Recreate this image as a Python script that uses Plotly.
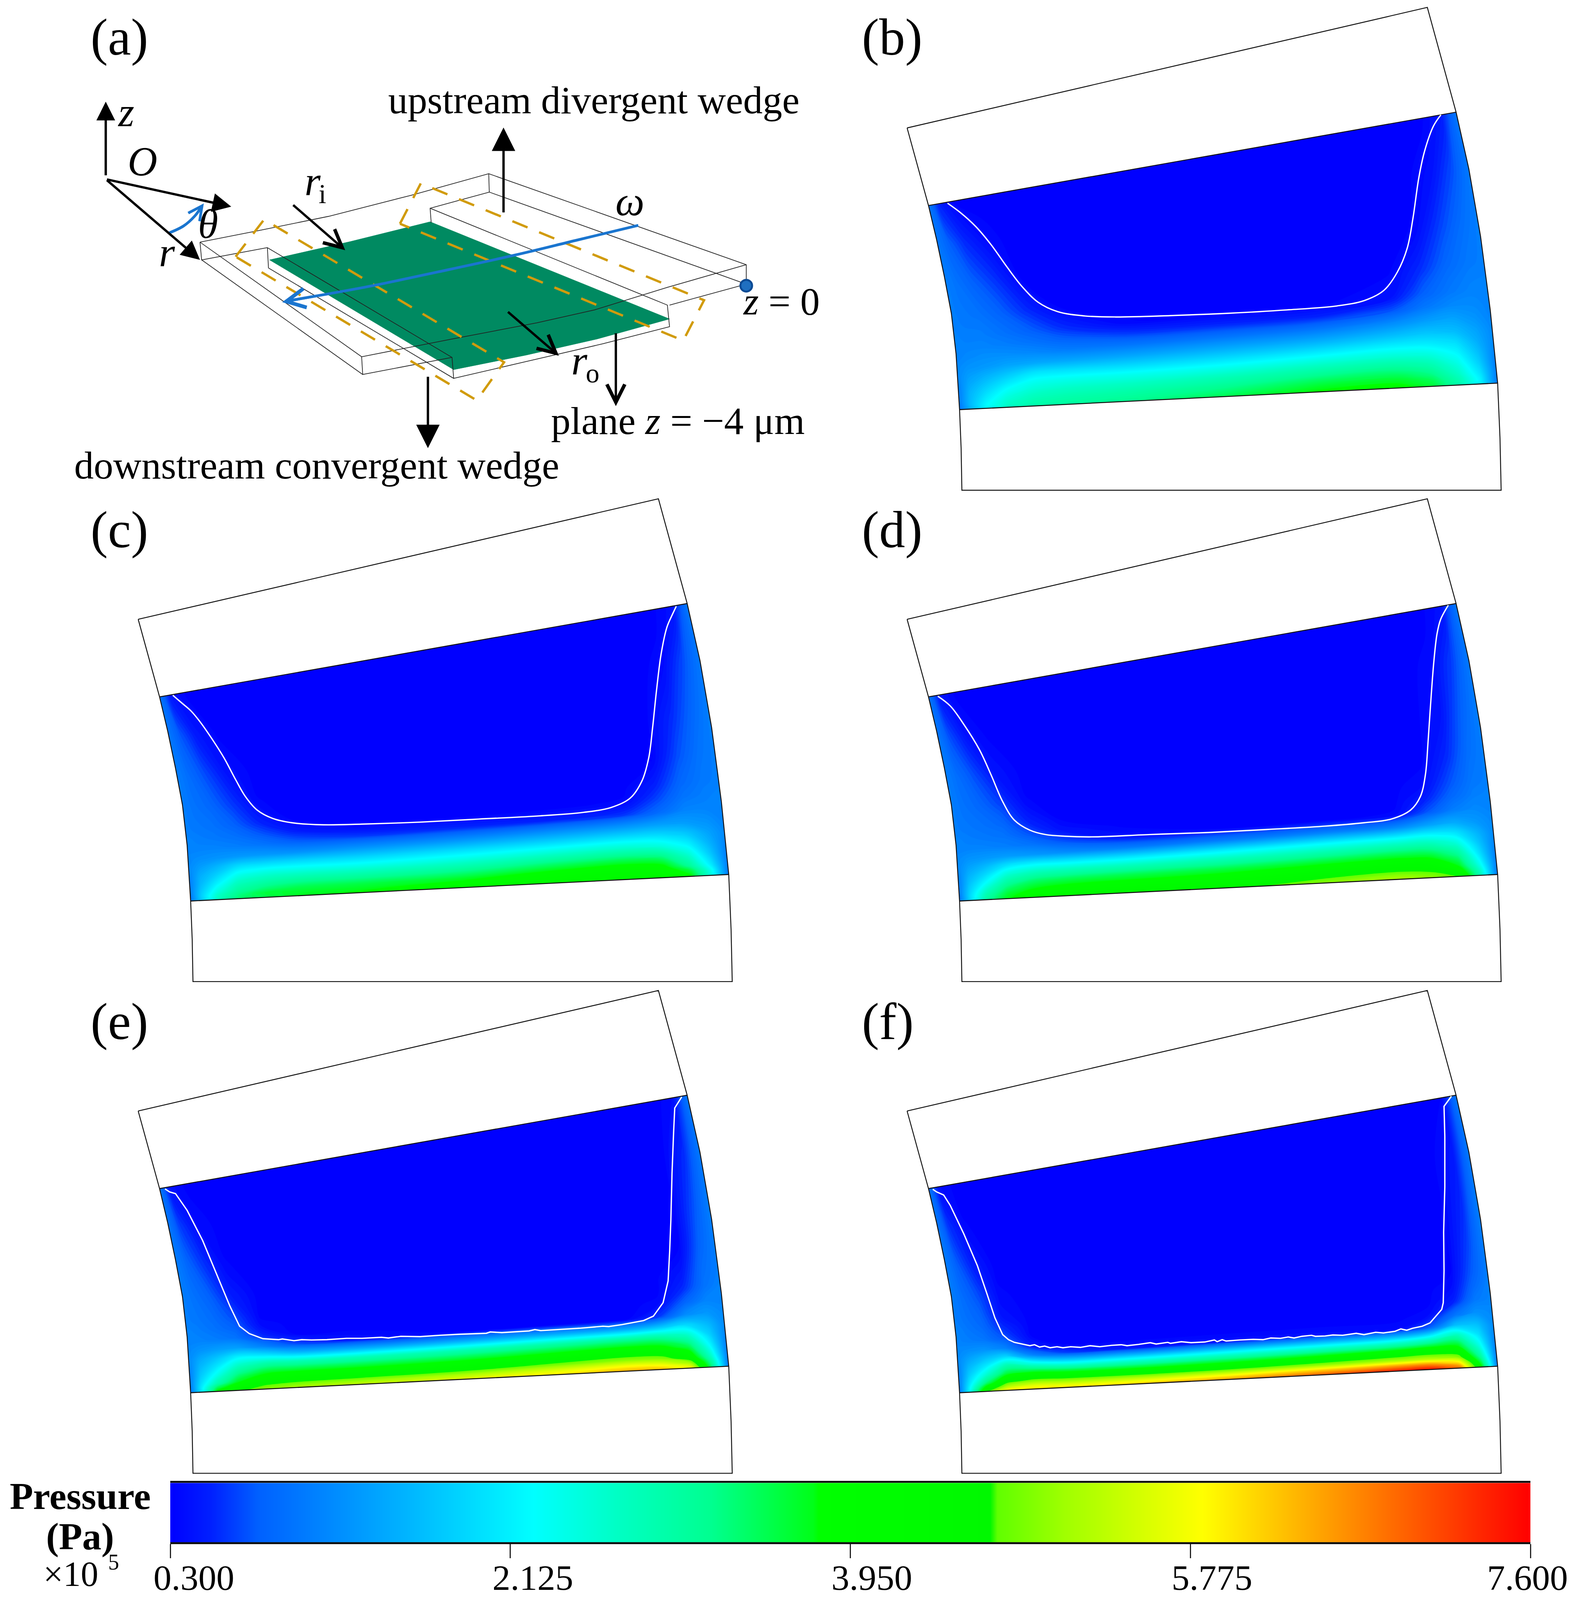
import numpy as np
import plotly.graph_objects as go

W, H = 4046, 4741      # reference size; every coordinate below is in these units
FIG_H = 4096           # the browser window is only this tall, so the y axis maps H onto FIG_H
Y_K = FIG_H / H
SERIF = "Liberation Serif"

# ---- colour scale (pressure, 10^5 Pa) ----
P_MIN, P_MAX = 0.3, 7.6
BAR_TICKS = [0.3, 2.125, 3.95, 5.775, 7.6]
BAR_LABELS = ["0.300", "2.125", "3.950", "5.775", "7.600"]
BAR_LABEL_SHIFT = [60, 58, 55, 55, -8]
SCALE_P = [0.3, 0.52, 0.77, 1.6, 2.25, 2.7, 3.2, 3.75, 3.78, 4.7, 4.74, 5.1, 5.84, 7.6]
SCALE_C = ["#0000ff", "#0020ff", "#0060ff", "#00b8ff", "#00ffff", "#00ffc4", "#00ff90",
           "#00ff18", "#00ff00", "#00f800", "#60ff00", "#a0ff00", "#ffff00", "#ff0000"]
BAR_P = [0.3, 0.52, 0.77, 1.6, 2.25, 2.7, 3.2, 3.75, 3.78, 4.7, 4.74, 5.1, 5.84, 7.6]

# ---- pressure tables: rows along V, columns along U ----
U = [0, .02, .05, .09, .14, .2, .32, .5, .68, .82, .88, .93, .97, 1]
V = [0, .2, .4, .55, .65, .7, .75, .8, .84, .88, .92, .96, .98, 1]

P_B = [
 [1.0,.5,.3,.3,.3,.3,.3,.3,.3,.3,.3,.3,.45,1.0],
 [1.0,.8,.55,.35,.3,.3,.3,.3,.3,.3,.3,.4,.7,1.0],
 [1.05,.95,.8,.6,.32,.3,.3,.3,.3,.3,.33,.65,.9,1.05],
 [1.05,1.0,.95,.8,.55,.32,.3,.3,.3,.31,.55,.85,1.0,1.05],
 [1.1,1.05,1.05,.95,.8,.58,.33,.3,.3,.42,.8,1.0,1.1,1.1],
 [1.1,1.1,1.1,1.05,.95,.8,.62,.55,.52,.72,1.0,1.15,1.15,1.1],
 [1.1,1.15,1.2,1.2,1.15,1.05,.98,.98,1.0,1.2,1.35,1.4,1.25,1.1],
 [1.15,1.25,1.3,1.4,1.45,1.45,1.45,1.5,1.55,1.7,1.75,1.65,1.4,1.15],
 [1.15,1.35,1.5,1.7,1.95,1.95,1.9,1.95,2.05,2.15,2.1,1.95,1.5,1.15],
 [1.1,1.45,1.7,2.0,2.3,2.35,2.35,2.4,2.55,2.6,2.5,2.2,1.65,1.1],
 [1.05,1.55,1.9,2.3,2.55,2.65,2.7,2.85,3.05,3.1,2.9,2.45,1.8,1.05],
 [1.05,1.6,2.1,2.55,2.8,2.9,3.0,3.2,3.5,3.55,3.3,2.7,2.0,1.05],
 [1.0,1.6,2.2,2.65,2.9,3.0,3.1,3.35,3.7,3.75,3.5,2.85,2.1,1.0],
 [1.0,1.5,2.2,2.7,2.95,3.05,3.2,3.5,3.85,3.9,3.6,2.9,2.1,1.0],
]
P_C = [
 [1.0,.45,.3,.3,.3,.3,.3,.3,.3,.3,.3,.3,.4,1.0],
 [1.0,.75,.45,.3,.3,.3,.3,.3,.3,.3,.3,.35,.7,1.0],
 [1.05,.9,.7,.42,.3,.3,.3,.3,.3,.3,.3,.55,.85,1.05],
 [1.05,.95,.85,.62,.33,.3,.3,.3,.3,.3,.31,.7,.95,1.05],
 [1.05,1.0,.95,.8,.52,.32,.3,.3,.3,.3,.5,.85,1.0,1.05],
 [1.1,1.05,1.0,.92,.72,.48,.3,.3,.3,.34,.65,.95,1.05,1.1],
 [1.1,1.1,1.1,1.05,.95,.78,.62,.55,.52,.6,.85,1.1,1.1,1.1],
 [1.15,1.2,1.25,1.3,1.3,1.25,1.25,1.25,1.3,1.35,1.4,1.35,1.25,1.1],
 [1.15,1.35,1.55,1.85,1.9,1.9,1.85,1.9,1.95,2.0,1.95,1.75,1.4,1.15],
 [1.1,1.5,1.8,2.3,2.45,2.45,2.4,2.45,2.6,2.65,2.5,2.15,1.55,1.1],
 [1.05,1.6,2.1,2.7,2.9,3.0,3.0,3.05,3.3,3.4,3.25,2.6,1.75,1.05],
 [1.05,1.75,2.45,3.05,3.35,3.5,3.55,3.65,3.95,4.1,3.95,3.1,2.05,1.05],
 [1.0,1.8,2.65,3.25,3.6,3.65,3.7,3.9,4.2,4.35,4.2,3.6,2.3,1.0],
 [1.0,1.7,2.7,3.35,3.5,3.7,3.85,4.1,4.3,4.45,4.25,3.85,2.35,1.0],
]
P_D = [
 [1.0,.45,.3,.3,.3,.3,.3,.3,.3,.3,.3,.3,.4,1.0],
 [1.0,.7,.42,.3,.3,.3,.3,.3,.3,.3,.3,.35,.65,1.0],
 [1.05,.9,.7,.42,.3,.3,.3,.3,.3,.3,.3,.42,.8,1.05],
 [1.05,.95,.85,.65,.33,.3,.3,.3,.3,.3,.3,.55,.9,1.05],
 [1.05,1.0,.95,.85,.52,.32,.3,.3,.3,.3,.38,.72,.98,1.05],
 [1.1,1.05,1.0,.95,.7,.42,.3,.3,.3,.3,.5,.85,1.05,1.1],
 [1.1,1.1,1.1,1.05,.95,.72,.4,.32,.3,.34,.72,1.05,1.15,1.1],
 [1.15,1.25,1.3,1.35,1.3,1.2,1.05,1.05,1.1,1.15,1.4,1.5,1.3,1.15],
 [1.15,1.4,1.6,1.95,2.1,2.05,2.0,2.05,2.15,2.2,2.25,2.05,1.55,1.15],
 [1.1,1.55,1.9,2.5,2.75,2.8,2.8,2.85,2.95,3.05,3.0,2.6,1.75,1.1],
 [1.05,1.7,2.25,3.0,3.35,3.45,3.5,3.55,3.7,3.8,3.7,3.2,2.0,1.05],
 [1.05,1.85,2.7,3.45,3.8,3.95,4.0,4.1,4.35,4.5,4.35,3.75,2.35,1.05],
 [1.0,1.9,2.9,3.65,4.0,4.15,4.25,4.4,4.7,4.9,4.75,4.2,2.6,1.0],
 [1.0,1.85,3.0,3.75,4.1,4.25,4.4,4.6,4.95,5.2,5.0,4.7,2.7,1.0],
]
P_E = [
 [1.0,.4,.3,.3,.3,.3,.3,.3,.3,.3,.3,.3,.35,1.0],
 [1.0,.65,.38,.3,.3,.3,.3,.3,.3,.3,.3,.3,.55,1.0],
 [1.05,.85,.6,.33,.3,.3,.3,.3,.3,.3,.3,.3,.7,1.05],
 [1.05,.95,.8,.48,.3,.3,.3,.3,.3,.3,.3,.31,.8,1.05],
 [1.05,1.0,.9,.68,.3,.3,.3,.3,.3,.3,.3,.45,.9,1.05],
 [1.1,1.05,.95,.8,.36,.3,.3,.3,.3,.3,.3,.55,.95,1.1],
 [1.1,1.1,1.05,.95,.55,.3,.3,.3,.3,.3,.35,.8,1.1,1.1],
 [1.15,1.25,1.35,1.4,1.1,.7,.42,.32,.3,.3,.62,1.2,1.3,1.15],
 [1.15,1.45,1.7,2.1,2.0,1.65,1.5,1.5,1.55,1.55,1.75,1.95,1.6,1.15],
 [1.1,1.6,2.0,2.65,2.95,2.9,2.85,2.9,3.05,3.15,3.1,2.75,1.85,1.1],
 [1.05,1.75,2.35,3.2,3.65,3.7,3.7,3.75,3.95,4.1,4.0,3.5,2.2,1.05],
 [1.05,1.95,2.85,3.75,4.25,4.4,4.45,4.55,4.85,5.05,4.95,4.3,2.65,1.05],
 [1.0,2.05,3.4,4.25,4.7,4.85,4.95,5.15,5.5,5.8,5.65,5.1,3.0,1.0],
 [1.0,2.0,3.9,4.6,5.0,5.2,5.4,5.65,6.0,6.4,6.3,5.8,3.2,1.0],
]
P_F = [
 [1.0,.38,.3,.3,.3,.3,.3,.3,.3,.3,.3,.3,.32,1.0],
 [1.0,.6,.33,.3,.3,.3,.3,.3,.3,.3,.3,.3,.45,1.0],
 [1.05,.8,.5,.3,.3,.3,.3,.3,.3,.3,.3,.3,.55,1.05],
 [1.05,.9,.7,.34,.3,.3,.3,.3,.3,.3,.3,.3,.65,1.05],
 [1.05,.95,.82,.42,.3,.3,.3,.3,.3,.3,.3,.32,.75,1.05],
 [1.1,1.0,.88,.55,.3,.3,.3,.3,.3,.3,.3,.38,.85,1.1],
 [1.1,1.05,.98,.72,.32,.3,.3,.3,.3,.3,.3,.5,1.0,1.1],
 [1.15,1.2,1.25,1.1,.48,.32,.3,.3,.3,.3,.38,.95,1.25,1.15],
 [1.15,1.4,1.65,1.9,1.1,.65,.45,.42,.4,.38,.75,1.7,1.65,1.15],
 [1.1,1.6,2.05,2.85,2.45,2.05,2.0,2.05,2.1,2.15,2.45,2.9,2.0,1.1],
 [1.05,1.8,2.55,3.6,3.75,3.55,3.45,3.5,3.65,3.8,3.95,3.85,2.45,1.05],
 [1.05,2.05,3.3,4.6,4.9,4.8,4.75,4.8,5.0,5.2,5.25,5.0,3.05,1.05],
 [1.0,2.2,3.95,5.2,5.55,5.45,5.5,5.75,6.15,6.5,6.55,6.0,3.5,1.0],
 [1.0,2.3,4.6,5.9,6.05,6.05,6.2,6.55,7.0,7.5,7.55,6.9,3.9,1.0],
]

# ---- white isobar of each panel, panel-local coordinates ----
ISO_B = [(128,601),(161,629),(201,671),(241,726),(281,791),(321,851),(361,896),(411,924),(481,937),(561,940),
         (701,936),(851,929),(1001,919),(1131,907),(1201,891),(1251,861),(1286,806),(1311,736),(1326,646),
         (1341,526),(1356,446),(1379,371),(1398,338)]
ISO_C = [(113,603),(135,625),(160,650),(185,685),(215,735),(245,790),(275,855),(300,905),(330,945),(370,970),
         (420,983),(500,989),(600,987),(750,981),(900,972),(1050,963),(1170,952),(1240,938),(1290,910),(1320,860),
         (1338,790),(1348,700),(1358,590),(1370,480),(1385,400),(1400,360),(1409,338)]
ISO_D = [(103,606),(135,635),(170,690),(210,765),(240,840),(270,920),(300,975),(340,1005),(380,1018),(430,1023),
         (500,1025),(650,1018),(800,1012),(950,1003),(1100,993),(1200,983),(1270,972),(1320,945),(1345,905),
         (1358,840),(1365,740),(1372,620),(1380,500),(1388,420),(1397,378),(1417,335)]
ISO_E = [(93,609),(105,618),(120,623),(150,673),(190,763),(230,873),(260,958),(285,1018),(310,1040),(345,1055),
         (385,1058),(395,1056),(425,1061),(445,1058),(470,1059),(510,1058),(560,1054),(600,1054),(650,1051),(668,1053),
         (700,1048),(750,1049),(800,1045),(850,1042),(920,1039),(930,1035),(960,1037),(1030,1032),(1045,1028),(1060,1031),
         (1100,1028),(1160,1024),(1220,1018),(1235,1019),(1270,1013),(1300,1007),(1325,1001),(1350,988),(1375,948),(1388,883),
         (1392,793),(1395,703),(1398,563),(1402,443),(1405,368),(1423,335)]
ISO_F = [(90,610),(100,618),(118,627),(135,658),(170,743),(205,838),(230,923),(250,993),(270,1043),(285,1058),(300,1066),
         (320,1071),(340,1076),(352,1073),(365,1080),(378,1077),(392,1082),(410,1079),(425,1082),(445,1079),(470,1081),
         (495,1076),(520,1079),(550,1075),(575,1073),(590,1076),(620,1072),(650,1067),(665,1071),(695,1066),(702,1069),
         (730,1064),(755,1067),(790,1065),(815,1059),(822,1064),(835,1058),(845,1062),(880,1059),(915,1057),(940,1058),
         (960,1053),(985,1054),(1005,1050),(1020,1053),(1040,1048),(1065,1045),(1075,1048),(1100,1047),(1120,1044),
         (1145,1045),(1180,1039),(1200,1043),(1230,1036),(1250,1038),(1280,1033),(1295,1026),(1310,1030),(1325,1024),
         (1350,1018),(1370,1008),(1385,988),(1400,968),(1404,948),(1406,853),(1405,738),(1408,603),(1408,453),(1406,363),(1425,333)]

# ---- wedge outline, panel-local coordinates ----
OUTLINE = [(24,377),(1363,18),(1437,330),(1470,500),(1500,700),(1525,920),(1544,1137),(1550,1300),(1553,1456),
           (165,1456),(163,1330),(159,1216),(150,1050),(138,930),(120,820),(100,710),(79,608),(50,485),(24,377)]
FIELD_TOP = [(79,608),(1437,330)]
FIELD_BOTTOM = [(159,1216),(1544,1137)]
FIELD_LEFT = [(79,608),(100,710),(120,820),(138,930),(150,1050),(159,1216)]
FIELD_RIGHT = [(1437,330),(1470,500),(1500,700),(1525,920),(1544,1137)]

PANELS = [("b", P_B, ISO_B, (2299, 4), "spline"), ("c", P_C, ISO_C, (330, 1460), "spline"),
          ("d", P_D, ISO_D, (2299, 1460), "spline"),
          ("e", P_E, ISO_E, (330, 2917), "linear"), ("f", P_F, ISO_F, (2299, 2917), "linear")]
ZOOM = 1560 / 1568

# ---- schematic (a), coordinates ----
AX, AY = 2200 / 1568, 1500 / 1568
GREEN_SHEET = [(492,805),(640,748),(785,687),(1222,988),(1090,1050),(960,1100),(828,1145),(492,805)]
WIRES = [
 [(365,750),(470,715),(600,670),(750,605),(892,538),(1362,820),(1362,880),(1222,945)],
 [(892,538),(893,595),(785,645),(787,690)],
 [(893,595),(1362,880)],
 [(785,645),(1218,945),(1222,1012),(1100,1065),(960,1120),(828,1172),(825,1107),(488,767),(490,830)],
 [(365,750),(368,805),(488,767)],
 [(365,750),(660,1105),(662,1160),(825,1107)],
 [(368,805),(662,1160)],
 [(660,1105),(735,1080),(825,1050),(980,1000),(1085,960),(1218,890),(1362,820)],
 [(490,830),(828,1172)],
]
DASH_UP = [(730,693),(768,568),(1285,930),(1247,1055),(730,693)]
DASH_DOWN = [(430,795),(482,680),(920,1122),(870,1240),(430,795)]
OMEGA = [(1165,698),(1050,745),(940,790),(800,842),(680,885),(600,910),(525,932)]
THETA_ARC = [(308,722),(335,700),(355,670),(368,640)]
Z0_DOT = (1362,885)

# tail x, tail y, tip x, tip y, colour, head type, head size, width
ARROWS = [
 (193,555,193,315,"#000000",2,1.6,6),
 (193,555,365,805,"#000000",2,1.6,6),
 (193,555,422,640,"#000000",2,1.6,6),
 (533,632,630,775,"#000000",5,1.5,6),
 (925,963,1020,1102,"#000000",5,1.5,6),
 (1124,1020,1124,1258,"#000000",5,1.5,6),
 (919,670,919,395,"#000000",2,2.0,6),
 (781,1155,781,1388,"#000000",2,2.0,6),
 (600,910,515,936,"#1a75cf",5,1.6,6),
 (355,670,372,630,"#1a75cf",5,1.4,5),
]

def xs(points, ox=0.0, k=1.0):
    return [ox + p[0] * k for p in points]

def ys(points, oy=0.0, k=1.0):
    return [oy + p[1] * k for p in points]

fig = go.Figure()
scale = [[(p - P_MIN) / (P_MAX - P_MIN), c] for p, c in zip(SCALE_P, SCALE_C)]

# pressure fields on warped carpets
lx, ly = np.array(FIELD_LEFT, float).T
rx, ry = np.array(FIELD_RIGHT, float).T
for name, table, iso, (ox, oy), shape in PANELS:
    gx, gy = [], []
    for v in V:
        y_l = ly[0] + v * (ly[-1] - ly[0])
        y_r = ry[0] + v * (ry[-1] - ry[0])
        x_l = np.interp(y_l, ly, lx)
        x_r = np.interp(y_r, ry, rx)
        gx.append([ox + ZOOM * (x_l + u * (x_r - x_l)) for u in U])
        gy.append([oy + ZOOM * (y_l + u * (y_r - y_l)) for u in U])
    hidden = dict(showgrid=False, showline=False, showticklabels="none", startline=False, endline=False,
                  minorgridcount=0, smoothing=0, tickmode="array", tickvals=[])
    fig.add_trace(go.Carpet(carpet=name, a=U, b=V, x=gx, y=gy, aaxis=hidden, baxis=hidden,
                            xaxis="x", yaxis="y"))
    fig.add_trace(go.Contourcarpet(carpet=name, a=U, b=V, z=table, colorscale=scale,
                                   autocontour=False, showscale=False,
                                   contours=dict(start=0.325, end=7.6, size=0.05, coloring="fill", showlines=False),
                                   line=dict(width=0), xaxis="x", yaxis="y"))

# outlines and white isobars
for name, table, iso, (ox, oy), shape in PANELS:
    for seg, w in ((OUTLINE, 2.4), (FIELD_TOP, 2.4), (FIELD_BOTTOM, 2.6)):
        fig.add_trace(go.Scatter(x=xs(seg, ox, ZOOM), y=ys(seg, oy, ZOOM), mode="lines",
                                 line=dict(color="#111111", width=w), hoverinfo="skip", showlegend=False))
    fig.add_trace(go.Scatter(x=xs(iso, ox, ZOOM), y=ys(iso, oy, ZOOM), mode="lines",
                             line=dict(color="#ffffff", width=3.4, shape=shape), hoverinfo="skip", showlegend=False))

# schematic
fig.add_trace(go.Scatter(x=xs(GREEN_SHEET, 0, AX), y=ys(GREEN_SHEET, 0, AY), mode="lines", fill="toself",
                         fillcolor="#008a61", line=dict(color="#008a61", width=1), hoverinfo="skip", showlegend=False))
for seg in WIRES:
    fig.add_trace(go.Scatter(x=xs(seg, 0, AX), y=ys(seg, 0, AY), mode="lines",
                             line=dict(color="#222222", width=1.8), hoverinfo="skip", showlegend=False))
for seg in (DASH_UP, DASH_DOWN):
    fig.add_trace(go.Scatter(x=xs(seg, 0, AX), y=ys(seg, 0, AY), mode="lines",
                             line=dict(color="#d19b0c", width=6, dash="42px,32px"), hoverinfo="skip", showlegend=False))
for seg in (OMEGA, THETA_ARC):
    fig.add_trace(go.Scatter(x=xs(seg, 0, AX), y=ys(seg, 0, AY), mode="lines",
                             line=dict(color="#1a75cf", width=7, shape="spline"), hoverinfo="skip", showlegend=False))
fig.add_trace(go.Scatter(x=[Z0_DOT[0] * AX], y=[Z0_DOT[1] * AY], mode="markers",
                         marker=dict(size=30, color="#1f6fc0", line=dict(color="#0b4a94", width=5)),
                         hoverinfo="skip", showlegend=False))

# colour bar on its own pressure axis
fig.add_trace(go.Heatmap(x=BAR_P, y=[0, 1], z=[BAR_P, BAR_P], colorscale=scale, zmin=P_MIN, zmax=P_MAX,
                         zsmooth="best", showscale=False, xaxis="x2", yaxis="y2", hoverinfo="skip"))

ann = []
def text(x, base, s, size, anchor="left", bold=False):
    ann.append(dict(x=x, y=base + 0.216 * size / Y_K, xref="x", yref="y", text=("<b>%s</b>" % s) if bold else s,
                    showarrow=False, xanchor=anchor, yanchor="bottom", borderpad=0,
                    font=dict(family=SERIF, size=size, color="#000000")))

for s, x, base in (("(a)", 231, 163), ("(b)", 2206, 163), ("(c)", 231, 1623), ("(d)", 2206, 1623),
                   ("(e)", 231, 3080), ("(f)", 2206, 3080)):
    text(x, base, s, 133)
text(993, 337, "upstream divergent wedge", 100)
text(189, 1419, "downstream convergent wedge", 100)
text(1410, 1287, "plane <i>z</i> = \u22124 \u03bcm", 100)
text(1901, 933, "<i>z</i> = 0", 100)
text(322, 375, "<i>z</i>", 105, "center")
text(365, 521, "<i>O</i>", 105, "center")
text(428, 790, "<i>r</i>", 105, "center")
text(533, 706, "<i>\u03b8</i>", 105, "center")
text(779, 579, "<i>r</i>", 105)
text(825, 603, "i", 70, "center")
text(1613, 639, "<i>\u03c9</i>", 105, "center")
text(1462, 1110, "<i>r</i>", 105)
text(1517, 1134, "o", 70, "center")
text(205, 4472, "Pressure", 98, "center", True)
text(205, 4592, "(Pa)", 98, "center", True)
text(110, 4700, "\u00d710", 90)
text(276, 4652, "5", 56)

for (tx, ty, hx, hy, col, head, size, wid) in ARROWS:
    ann.append(dict(x=hx * AX, y=hy * AY, ax=tx * AX, ay=ty * AY, xref="x", yref="y", axref="x", ayref="y",
                    text=" ", showarrow=True, arrowhead=head, arrowsize=size, arrowwidth=wid, arrowcolor=col,
                    standoff=0, startstandoff=0))
for t, lab, sh in zip(BAR_TICKS, BAR_LABELS, BAR_LABEL_SHIFT):
    ann.append(dict(x=t, y=0, xref="x2", yref="y2", text=lab, showarrow=False, xanchor="center", yanchor="top",
                    xshift=sh, yshift=-38, font=dict(family=SERIF, size=92, color="#000000")))

fig.update_layout(
    width=W, height=FIG_H, margin=dict(l=0, r=0, t=0, b=0), autosize=False,
    paper_bgcolor="#ffffff", plot_bgcolor="#ffffff", showlegend=False,
    xaxis=dict(range=[0, W], domain=[0, 1], visible=False, fixedrange=True),
    yaxis=dict(range=[H, 0], domain=[0, 1], visible=False, fixedrange=True),
    xaxis2=dict(range=[P_MIN, P_MAX], domain=[436 / W, 3919 / W], anchor="y2", tickmode="array", tickvals=BAR_TICKS,
                showticklabels=False, ticks="outside", ticklen=36, tickwidth=3, tickcolor="#222222",
                showline=True, mirror=True, linecolor="#111111", linewidth=5, showgrid=False, zeroline=False),
    yaxis2=dict(range=[0, 1], domain=[1 - 4570 / H, 1 - 4394 / H], anchor="x2", visible=False),
    annotations=ann,
)
fig.write_html("out.html", config={"displayModeBar": False}, post_script="document.body.style.margin='0';")
